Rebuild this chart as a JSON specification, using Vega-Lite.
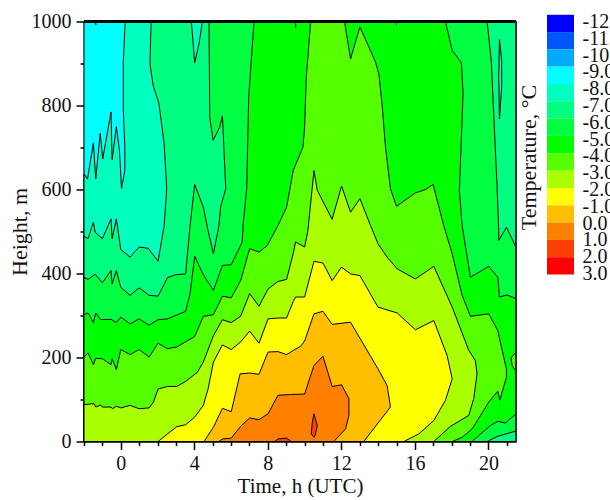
{
  "$schema": "https://vega.github.io/schema/vega-lite/v6.json",
  "background": "white",
  "padding": {"left": 8, "top": 11.5, "right": 0, "bottom": 0},
  "spacing": -1,
  "config": {
    "font": "Liberation Serif",
    "view": {"stroke": null},
    "axis": {"grid": false, "tickCount": 100, "labelFont": "Liberation Serif", "labelFontSize": 20, "labelColor": "#111", "titleFont": "Liberation Serif", "titleFontSize": 21, "titleFontWeight": "normal", "titleColor": "#111", "domainColor": "black", "domainWidth": 1.5, "tickColor": "black", "tickWidth": 1.5, "zindex": 2}
  },
  "hconcat": [
    {
      "width": 432,
      "height": 420,
      "data": {"values": [
{"p":"r0","b":"-9","t":-2,"h":0},{"p":"r0","b":"-9","t":-2,"h":1000},{"p":"r0","b":"-9","t":21.5,"h":1000},{"p":"r0","b":"-9","t":21.5,"h":0},{"p":"r0","b":"-9","t":-2,"h":0},
{"p":"s1","b":"-9","t":-1.36,"h":1000},{"p":"s1","b":"-9","t":-1.36,"h":992},{"p":"s1","b":"-9","t":-1.36,"h":1000},
{"p":"r1","b":"-8","t":-2,"h":637},{"p":"r1","b":"-8","t":-1.81,"h":625},{"p":"r1","b":"-8","t":-1.49,"h":711},{"p":"r1","b":"-8","t":-1.36,"h":625},{"p":"r1","b":"-8","t":-1.12,"h":734},{"p":"r1","b":"-8","t":-0.98,"h":673},{"p":"r1","b":"-8","t":-0.53,"h":785},{"p":"r1","b":"-8","t":-0.47,"h":671},{"p":"r1","b":"-8","t":-0.24,"h":750},{"p":"r1","b":"-8","t":-0.07,"h":693},{"p":"r1","b":"-8","t":0.04,"h":602},{"p":"r1","b":"-8","t":0.22,"h":645},{"p":"r1","b":"-8","t":0.22,"h":701},{"p":"r1","b":"-8","t":0.14,"h":788},{"p":"r1","b":"-8","t":0.14,"h":907},{"p":"r1","b":"-8","t":0.24,"h":1000},{"p":"r1","b":"-8","t":21.5,"h":1000},{"p":"r1","b":"-8","t":21.5,"h":0},{"p":"r1","b":"-8","t":-2,"h":0},{"p":"r1","b":"-8","t":-2,"h":637},
{"p":"r2","b":"-7","t":-2,"h":489},{"p":"r2","b":"-7","t":-1.78,"h":483},{"p":"r2","b":"-7","t":-1.49,"h":522},{"p":"r2","b":"-7","t":-1.39,"h":498},{"p":"r2","b":"-7","t":-1.0,"h":483},{"p":"r2","b":"-7","t":-0.53,"h":530},{"p":"r2","b":"-7","t":-0.47,"h":483},{"p":"r2","b":"-7","t":-0.24,"h":530},{"p":"r2","b":"-7","t":0,"h":457},{"p":"r2","b":"-7","t":0.51,"h":439},{"p":"r2","b":"-7","t":1.0,"h":463},{"p":"r2","b":"-7","t":1.49,"h":460},{"p":"r2","b":"-7","t":2.03,"h":429},{"p":"r2","b":"-7","t":2.36,"h":514},{"p":"r2","b":"-7","t":2.5,"h":602},{"p":"r2","b":"-7","t":2.36,"h":709},{"p":"r2","b":"-7","t":2.08,"h":804},{"p":"r2","b":"-7","t":1.76,"h":848},{"p":"r2","b":"-7","t":1.59,"h":899},{"p":"r2","b":"-7","t":1.65,"h":1000},{"p":"r2","b":"-7","t":3.84,"h":1000},{"p":"r2","b":"-7","t":4.02,"h":902},{"p":"r2","b":"-7","t":4.26,"h":947},{"p":"r2","b":"-7","t":4.44,"h":1000},{"p":"r2","b":"-7","t":21.5,"h":1000},{"p":"r2","b":"-7","t":21.5,"h":0},{"p":"r2","b":"-7","t":-2,"h":0},{"p":"r2","b":"-7","t":-2,"h":489},
{"p":"l1","b":"-8","t":20.6,"h":957},{"p":"l1","b":"-8","t":20.72,"h":907},{"p":"l1","b":"-8","t":20.72,"h":844},{"p":"l1","b":"-8","t":20.6,"h":768},{"p":"l1","b":"-8","t":20.56,"h":867},{"p":"l1","b":"-8","t":20.6,"h":957},
{"p":"r3","b":"-6","t":-2,"h":391},{"p":"r3","b":"-6","t":-1.78,"h":386},{"p":"r3","b":"-6","t":-1.39,"h":398},{"p":"r3","b":"-6","t":-1.0,"h":378},{"p":"r3","b":"-6","t":-0.53,"h":407},{"p":"r3","b":"-6","t":-0.47,"h":375},{"p":"r3","b":"-6","t":-0.24,"h":407},{"p":"r3","b":"-6","t":0,"h":367},{"p":"r3","b":"-6","t":0.51,"h":348},{"p":"r3","b":"-6","t":1.0,"h":366},{"p":"r3","b":"-6","t":1.54,"h":348},{"p":"r3","b":"-6","t":2.03,"h":346},{"p":"r3","b":"-6","t":2.54,"h":390},{"p":"r3","b":"-6","t":2.99,"h":397},{"p":"r3","b":"-6","t":3.53,"h":399},{"p":"r3","b":"-6","t":3.77,"h":514},{"p":"r3","b":"-6","t":4.02,"h":612},{"p":"r3","b":"-6","t":4.49,"h":558},{"p":"r3","b":"-6","t":4.75,"h":502},{"p":"r3","b":"-6","t":5.04,"h":447},{"p":"r3","b":"-6","t":5.34,"h":514},{"p":"r3","b":"-6","t":5.43,"h":558},{"p":"r3","b":"-6","t":5.71,"h":602},{"p":"r3","b":"-6","t":5.53,"h":775},{"p":"r3","b":"-6","t":5.38,"h":748},{"p":"r3","b":"-6","t":5.02,"h":717},{"p":"r3","b":"-6","t":4.84,"h":772},{"p":"r3","b":"-6","t":4.8,"h":1000},{"p":"r3","b":"-6","t":19.93,"h":1000},{"p":"r3","b":"-6","t":20.16,"h":903},{"p":"r3","b":"-6","t":20.47,"h":606},{"p":"r3","b":"-6","t":20.56,"h":502},{"p":"r3","b":"-6","t":20.56,"h":479},{"p":"r3","b":"-6","t":20.98,"h":510},{"p":"r3","b":"-6","t":21.41,"h":471},{"p":"r3","b":"-6","t":21.5,"h":461},{"p":"r3","b":"-6","t":21.5,"h":25},{"p":"r3","b":"-6","t":20.47,"h":12},{"p":"r3","b":"-6","t":19.93,"h":0},{"p":"r3","b":"-6","t":-2,"h":0},{"p":"r3","b":"-6","t":-2,"h":391},
{"p":"r4","b":"-5","t":-2,"h":302},{"p":"r4","b":"-5","t":-1.78,"h":306},{"p":"r4","b":"-5","t":-1.49,"h":283},{"p":"r4","b":"-5","t":-1.36,"h":306},{"p":"r4","b":"-5","t":-1.09,"h":290},{"p":"r4","b":"-5","t":-0.53,"h":291},{"p":"r4","b":"-5","t":-0.24,"h":283},{"p":"r4","b":"-5","t":0,"h":296},{"p":"r4","b":"-5","t":0.51,"h":280},{"p":"r4","b":"-5","t":1.0,"h":292},{"p":"r4","b":"-5","t":1.54,"h":277},{"p":"r4","b":"-5","t":2.03,"h":290},{"p":"r4","b":"-5","t":2.54,"h":292},{"p":"r4","b":"-5","t":3.53,"h":310},{"p":"r4","b":"-5","t":3.77,"h":352},{"p":"r4","b":"-5","t":4.02,"h":441},{"p":"r4","b":"-5","t":4.49,"h":397},{"p":"r4","b":"-5","t":5.04,"h":360},{"p":"r4","b":"-5","t":5.53,"h":419},{"p":"r4","b":"-5","t":6.01,"h":421},{"p":"r4","b":"-5","t":6.61,"h":475},{"p":"r4","b":"-5","t":6.65,"h":514},{"p":"r4","b":"-5","t":6.85,"h":602},{"p":"r4","b":"-5","t":6.96,"h":820},{"p":"r4","b":"-5","t":7.1,"h":907},{"p":"r4","b":"-5","t":7.25,"h":1000},{"p":"r4","b":"-5","t":17.66,"h":1000},{"p":"r4","b":"-5","t":18.03,"h":931},{"p":"r4","b":"-5","t":18.53,"h":902},{"p":"r4","b":"-5","t":18.62,"h":828},{"p":"r4","b":"-5","t":18.42,"h":598},{"p":"r4","b":"-5","t":18.57,"h":514},{"p":"r4","b":"-5","t":19.02,"h":391},{"p":"r4","b":"-5","t":20.02,"h":417},{"p":"r4","b":"-5","t":20.51,"h":391},{"p":"r4","b":"-5","t":20.6,"h":344},{"p":"r4","b":"-5","t":21.01,"h":349},{"p":"r4","b":"-5","t":21.5,"h":340},{"p":"r4","b":"-5","t":21.5,"h":66},{"p":"r4","b":"-5","t":20.92,"h":44},{"p":"r4","b":"-5","t":20.51,"h":48},{"p":"r4","b":"-5","t":20.11,"h":38},{"p":"r4","b":"-5","t":19.57,"h":18},{"p":"r4","b":"-5","t":19.11,"h":0},{"p":"r4","b":"-5","t":-2,"h":0},{"p":"r4","b":"-5","t":-2,"h":302},
{"p":"s2","b":"-5","t":9.51,"h":1000},{"p":"s2","b":"-5","t":9.51,"h":985},{"p":"s2","b":"-5","t":9.51,"h":1000},
{"p":"s3","b":"-5","t":15.0,"h":1000},{"p":"s3","b":"-5","t":15.0,"h":992},{"p":"s3","b":"-5","t":15.0,"h":1000},
{"p":"r5","b":"-4","t":-2,"h":201},{"p":"r5","b":"-4","t":-1.78,"h":211},{"p":"r5","b":"-4","t":-1.49,"h":183},{"p":"r5","b":"-4","t":-1.36,"h":198},{"p":"r5","b":"-4","t":-1.0,"h":197},{"p":"r5","b":"-4","t":-0.53,"h":183},{"p":"r5","b":"-4","t":-0.47,"h":197},{"p":"r5","b":"-4","t":-0.24,"h":171},{"p":"r5","b":"-4","t":0,"h":219},{"p":"r5","b":"-4","t":0.51,"h":207},{"p":"r5","b":"-4","t":1.0,"h":219},{"p":"r5","b":"-4","t":1.54,"h":201},{"p":"r5","b":"-4","t":2.03,"h":234},{"p":"r5","b":"-4","t":2.54,"h":221},{"p":"r5","b":"-4","t":3.04,"h":225},{"p":"r5","b":"-4","t":4.02,"h":250},{"p":"r5","b":"-4","t":4.49,"h":298},{"p":"r5","b":"-4","t":5.04,"h":302},{"p":"r5","b":"-4","t":5.53,"h":346},{"p":"r5","b":"-4","t":6.01,"h":342},{"p":"r5","b":"-4","t":6.52,"h":383},{"p":"r5","b":"-4","t":7.01,"h":459},{"p":"r5","b":"-4","t":7.52,"h":451},{"p":"r5","b":"-4","t":7.97,"h":467},{"p":"r5","b":"-4","t":8.55,"h":514},{"p":"r5","b":"-4","t":9.02,"h":558},{"p":"r5","b":"-4","t":9.38,"h":645},{"p":"r5","b":"-4","t":9.91,"h":701},{"p":"r5","b":"-4","t":10.0,"h":748},{"p":"r5","b":"-4","t":10.09,"h":867},{"p":"r5","b":"-4","t":10.33,"h":1000},{"p":"r5","b":"-4","t":12.17,"h":1000},{"p":"r5","b":"-4","t":12.5,"h":911},{"p":"r5","b":"-4","t":13.01,"h":987},{"p":"r5","b":"-4","t":13.5,"h":939},{"p":"r5","b":"-4","t":13.86,"h":903},{"p":"r5","b":"-4","t":14.04,"h":875},{"p":"r5","b":"-4","t":14.22,"h":800},{"p":"r5","b":"-4","t":14.4,"h":701},{"p":"r5","b":"-4","t":14.67,"h":602},{"p":"r5","b":"-4","t":15.0,"h":560},{"p":"r5","b":"-4","t":16.03,"h":592},{"p":"r5","b":"-4","t":16.58,"h":600},{"p":"r5","b":"-4","t":16.99,"h":612},{"p":"r5","b":"-4","t":17.57,"h":514},{"p":"r5","b":"-4","t":18.03,"h":447},{"p":"r5","b":"-4","t":18.57,"h":348},{"p":"r5","b":"-4","t":19.02,"h":298},{"p":"r5","b":"-4","t":20.02,"h":304},{"p":"r5","b":"-4","t":20.51,"h":264},{"p":"r5","b":"-4","t":20.83,"h":201},{"p":"r5","b":"-4","t":20.98,"h":173},{"p":"r5","b":"-4","t":20.98,"h":153},{"p":"r5","b":"-4","t":20.62,"h":98},{"p":"r5","b":"-4","t":20.51,"h":120},{"p":"r5","b":"-4","t":20.02,"h":94},{"p":"r5","b":"-4","t":19.57,"h":62},{"p":"r5","b":"-4","t":19.11,"h":30},{"p":"r5","b":"-4","t":18.57,"h":10},{"p":"r5","b":"-4","t":18.03,"h":0},{"p":"r5","b":"-4","t":-2,"h":0},{"p":"r5","b":"-4","t":-2,"h":201},
{"p":"l5","b":"-4","t":21.5,"h":213},{"p":"l5","b":"-4","t":21.23,"h":199},{"p":"l5","b":"-4","t":21.29,"h":181},{"p":"l5","b":"-4","t":21.5,"h":167},{"p":"l5","b":"-4","t":21.5,"h":213},
{"p":"r6","b":"-3","t":-2,"h":88},{"p":"r6","b":"-3","t":-1.45,"h":90},{"p":"r6","b":"-3","t":-1.36,"h":82},{"p":"r6","b":"-3","t":-1.09,"h":87},{"p":"r6","b":"-3","t":-1.0,"h":82},{"p":"r6","b":"-3","t":-0.53,"h":82},{"p":"r6","b":"-3","t":-0.45,"h":78},{"p":"r6","b":"-3","t":-0.24,"h":84},{"p":"r6","b":"-3","t":0,"h":80},{"p":"r6","b":"-3","t":0.51,"h":86},{"p":"r6","b":"-3","t":1.0,"h":78},{"p":"r6","b":"-3","t":1.54,"h":80},{"p":"r6","b":"-3","t":1.78,"h":94},{"p":"r6","b":"-3","t":2.03,"h":125},{"p":"r6","b":"-3","t":2.54,"h":131},{"p":"r6","b":"-3","t":3.04,"h":131},{"p":"r6","b":"-3","t":3.53,"h":143},{"p":"r6","b":"-3","t":4.17,"h":165},{"p":"r6","b":"-3","t":4.49,"h":189},{"p":"r6","b":"-3","t":5.04,"h":252},{"p":"r6","b":"-3","t":5.53,"h":290},{"p":"r6","b":"-3","t":6.01,"h":283},{"p":"r6","b":"-3","t":6.52,"h":298},{"p":"r6","b":"-3","t":7.01,"h":352},{"p":"r6","b":"-3","t":7.52,"h":322},{"p":"r6","b":"-3","t":8.01,"h":363},{"p":"r6","b":"-3","t":8.55,"h":381},{"p":"r6","b":"-3","t":9.02,"h":386},{"p":"r6","b":"-3","t":9.38,"h":447},{"p":"r6","b":"-3","t":9.51,"h":475},{"p":"r6","b":"-3","t":10.0,"h":463},{"p":"r6","b":"-3","t":10.18,"h":502},{"p":"r6","b":"-3","t":10.51,"h":645},{"p":"r6","b":"-3","t":10.69,"h":598},{"p":"r6","b":"-3","t":11.5,"h":529},{"p":"r6","b":"-3","t":12.01,"h":608},{"p":"r6","b":"-3","t":12.5,"h":546},{"p":"r6","b":"-3","t":13.01,"h":578},{"p":"r6","b":"-3","t":13.59,"h":514},{"p":"r6","b":"-3","t":13.99,"h":471},{"p":"r6","b":"-3","t":14.49,"h":439},{"p":"r6","b":"-3","t":15.04,"h":411},{"p":"r6","b":"-3","t":16.03,"h":387},{"p":"r6","b":"-3","t":17.03,"h":417},{"p":"r6","b":"-3","t":18.03,"h":320},{"p":"r6","b":"-3","t":18.93,"h":217},{"p":"r6","b":"-3","t":19.29,"h":193},{"p":"r6","b":"-3","t":19.38,"h":161},{"p":"r6","b":"-3","t":19.2,"h":102},{"p":"r6","b":"-3","t":18.93,"h":62},{"p":"r6","b":"-3","t":17.93,"h":36},{"p":"r6","b":"-3","t":17.03,"h":0},{"p":"r6","b":"-3","t":-2,"h":0},{"p":"r6","b":"-3","t":-2,"h":88},
{"p":"r7","b":"-2","t":2.03,"h":0},{"p":"r7","b":"-2","t":2.54,"h":18},{"p":"r7","b":"-2","t":3.04,"h":35},{"p":"r7","b":"-2","t":3.53,"h":40},{"p":"r7","b":"-2","t":4.02,"h":58},{"p":"r7","b":"-2","t":4.49,"h":86},{"p":"r7","b":"-2","t":4.75,"h":125},{"p":"r7","b":"-2","t":5.04,"h":189},{"p":"r7","b":"-2","t":5.53,"h":230},{"p":"r7","b":"-2","t":6.01,"h":219},{"p":"r7","b":"-2","t":6.52,"h":237},{"p":"r7","b":"-2","t":7.01,"h":263},{"p":"r7","b":"-2","t":7.52,"h":234},{"p":"r7","b":"-2","t":8.01,"h":292},{"p":"r7","b":"-2","t":8.55,"h":294},{"p":"r7","b":"-2","t":9.02,"h":294},{"p":"r7","b":"-2","t":9.38,"h":333},{"p":"r7","b":"-2","t":9.51,"h":344},{"p":"r7","b":"-2","t":10.0,"h":344},{"p":"r7","b":"-2","t":10.51,"h":429},{"p":"r7","b":"-2","t":11.0,"h":425},{"p":"r7","b":"-2","t":11.5,"h":383},{"p":"r7","b":"-2","t":12.01,"h":415},{"p":"r7","b":"-2","t":12.5,"h":399},{"p":"r7","b":"-2","t":13.01,"h":395},{"p":"r7","b":"-2","t":13.99,"h":320},{"p":"r7","b":"-2","t":15.04,"h":306},{"p":"r7","b":"-2","t":16.03,"h":266},{"p":"r7","b":"-2","t":17.03,"h":288},{"p":"r7","b":"-2","t":17.75,"h":205},{"p":"r7","b":"-2","t":18.03,"h":149},{"p":"r7","b":"-2","t":17.66,"h":98},{"p":"r7","b":"-2","t":17.03,"h":50},{"p":"r7","b":"-2","t":16.21,"h":18},{"p":"r7","b":"-2","t":15.4,"h":0},{"p":"r7","b":"-2","t":2.03,"h":0},
{"p":"r8","b":"-1","t":4.53,"h":0},{"p":"r8","b":"-1","t":5.04,"h":34},{"p":"r8","b":"-1","t":5.53,"h":79},{"p":"r8","b":"-1","t":6.01,"h":71},{"p":"r8","b":"-1","t":6.49,"h":161},{"p":"r8","b":"-1","t":7.01,"h":163},{"p":"r8","b":"-1","t":7.52,"h":160},{"p":"r8","b":"-1","t":8.01,"h":213},{"p":"r8","b":"-1","t":8.55,"h":214},{"p":"r8","b":"-1","t":9.02,"h":207},{"p":"r8","b":"-1","t":9.78,"h":227},{"p":"r8","b":"-1","t":10.0,"h":239},{"p":"r8","b":"-1","t":10.51,"h":304},{"p":"r8","b":"-1","t":11.0,"h":310},{"p":"r8","b":"-1","t":11.5,"h":279},{"p":"r8","b":"-1","t":12.5,"h":284},{"p":"r8","b":"-1","t":13.99,"h":173},{"p":"r8","b":"-1","t":14.49,"h":133},{"p":"r8","b":"-1","t":14.67,"h":82},{"p":"r8","b":"-1","t":13.22,"h":0},{"p":"r8","b":"-1","t":4.53,"h":0},
{"p":"r9","b":"0","t":5.34,"h":0},{"p":"r9","b":"0","t":5.53,"h":6},{"p":"r9","b":"0","t":6.01,"h":8},{"p":"r9","b":"0","t":6.52,"h":36},{"p":"r9","b":"0","t":7.01,"h":56},{"p":"r9","b":"0","t":7.52,"h":52},{"p":"r9","b":"0","t":8.01,"h":66},{"p":"r9","b":"0","t":8.55,"h":110},{"p":"r9","b":"0","t":9.24,"h":112},{"p":"r9","b":"0","t":10.0,"h":113},{"p":"r9","b":"0","t":10.51,"h":181},{"p":"r9","b":"0","t":11.0,"h":203},{"p":"r9","b":"0","t":11.5,"h":131},{"p":"r9","b":"0","t":12.01,"h":135},{"p":"r9","b":"0","t":12.41,"h":102},{"p":"r9","b":"0","t":12.41,"h":62},{"p":"r9","b":"0","t":12.23,"h":30},{"p":"r9","b":"0","t":11.59,"h":0},{"p":"r9","b":"0","t":5.34,"h":0},
{"p":"r10","b":"1","t":10.51,"h":66},{"p":"r10","b":"1","t":10.69,"h":38},{"p":"r10","b":"1","t":10.6,"h":18},{"p":"r10","b":"1","t":10.51,"h":10},{"p":"r10","b":"1","t":10.36,"h":18},{"p":"r10","b":"1","t":10.42,"h":46},{"p":"r10","b":"1","t":10.51,"h":66},
{"p":"r11","b":"1","t":8.37,"h":0},{"p":"r11","b":"1","t":8.55,"h":6},{"p":"r11","b":"1","t":9.02,"h":8},{"p":"r11","b":"1","t":9.28,"h":0},{"p":"r11","b":"1","t":8.37,"h":0}
      ]},
      "layer": [
        {
          "mark": {"type": "line", "stroke": "black", "strokeWidth": 1, "clip": false},
          "encoding": {
            "x": {"field": "t", "type": "quantitative", "scale": {"domain": [-2, 21.5], "nice": false, "zero": false}, "title": "Time, h (UTC)",
              "axis": {"values": [-2, -1, 0, 1, 2, 3, 4, 5, 6, 7, 8, 9, 10, 11, 12, 13, 14, 15, 16, 17, 18, 19, 20, 21], "format": "d", "tickCount": 100, "labelExpr": "datum.value % 4 == 0 ? datum.label : ''", "labelOverlap": false, "labelFlush": false, "labelPadding": 4, "titlePadding": 2, "tickSize": {"condition": {"test": "datum.value % 4 == 0", "value": 8}, "value": 4}}},
            "y": {"field": "h", "type": "quantitative", "scale": {"domain": [0, 1000], "nice": false}, "title": "Height, m",
              "axis": {"values": [0, 100, 200, 300, 400, 500, 600, 700, 800, 900, 1000], "format": "d", "tickCount": 100, "labelExpr": "datum.value % 200 == 0 ? datum.label : ''", "labelOverlap": false, "labelFlush": false, "labelPadding": 5, "titlePadding": 0, "titleFontSize": 22, "tickSize": {"condition": {"test": "datum.value % 200 == 0", "value": 8}, "value": 4}}},
            "detail": {"field": "p"},
            "order": {"value": null},
            "fill": {"field": "b", "type": "nominal", "legend": null, "scale": {"domain": ["-12", "-11", "-10", "-9", "-8", "-7", "-6", "-5", "-4", "-3", "-2", "-1", "0", "1", "2"], "range": ["#0000ff", "#0055ff", "#00aaff", "#00ffff", "#00ffbf", "#00ff80", "#00ff40", "#00ff00", "#55ff00", "#aaff00", "#ffff00", "#ffbf00", "#ff8000", "#ff4000", "#ff0000"]}}
          }
        },
        {
          "mark": {"type": "rule", "stroke": "black", "strokeWidth": 2},
          "encoding": {"y": {"datum": 1000}}
        },
        {
          "mark": {"type": "rule", "stroke": "#333", "strokeWidth": 1},
          "encoding": {"y": {"datum": 1000}, "y2": {"datum": 0}, "x": {"datum": 21.5}}
        }
      ]
    },
    {
      "width": 27,
      "height": 252,
      "title": {"text": "Temperature, °C", "orient": "left", "anchor": "middle", "font": "Liberation Serif", "fontSize": 22, "fontWeight": "normal", "color": "#111", "offset": 6, "dx": -10},
      "data": {"values": [
        {"b": "-12", "lo": -12.4, "hi": -11.37},
        {"b": "-11", "lo": -11.37, "hi": -10.34},
        {"b": "-10", "lo": -10.34, "hi": -9.31},
        {"b": "-9", "lo": -9.31, "hi": -8.28},
        {"b": "-8", "lo": -8.28, "hi": -7.25},
        {"b": "-7", "lo": -7.25, "hi": -6.22},
        {"b": "-6", "lo": -6.22, "hi": -5.19},
        {"b": "-5", "lo": -5.19, "hi": -4.16},
        {"b": "-4", "lo": -4.16, "hi": -3.12},
        {"b": "-3", "lo": -3.12, "hi": -2.09},
        {"b": "-2", "lo": -2.09, "hi": -1.06},
        {"b": "-1", "lo": -1.06, "hi": -0.03},
        {"b": "0", "lo": -0.03, "hi": 1.0},
        {"b": "1", "lo": 1.0, "hi": 2.03},
        {"b": "2", "lo": 2.03, "hi": 3.06}
      ]},
      "mark": {"type": "rect", "clip": false},
      "encoding": {
        "y": {"field": "lo", "type": "quantitative", "scale": {"domain": [-12, 3], "reverse": true, "nice": false, "zero": false}, "title": null,
          "axis": {"orient": "right", "values": [-12, -11, -10, -9, -8, -7, -6, -5, -4, -3, -2, -1, 0, 1, 2, 3], "format": ".1f", "tickCount": 100, "labelExpr": "replace(datum.label, '−', '-')", "domain": false, "ticks": false, "labelPadding": 8, "labelOverlap": false, "labelFlush": false}},
        "y2": {"field": "hi"},
        "fill": {"field": "b", "type": "nominal", "legend": null, "scale": {"domain": ["-12", "-11", "-10", "-9", "-8", "-7", "-6", "-5", "-4", "-3", "-2", "-1", "0", "1", "2"], "range": ["#0000ff", "#0055ff", "#00aaff", "#00ffff", "#00ffbf", "#00ff80", "#00ff40", "#00ff00", "#55ff00", "#aaff00", "#ffff00", "#ffbf00", "#ff8000", "#ff4000", "#ff0000"]}}
      }
    }
  ]
}
